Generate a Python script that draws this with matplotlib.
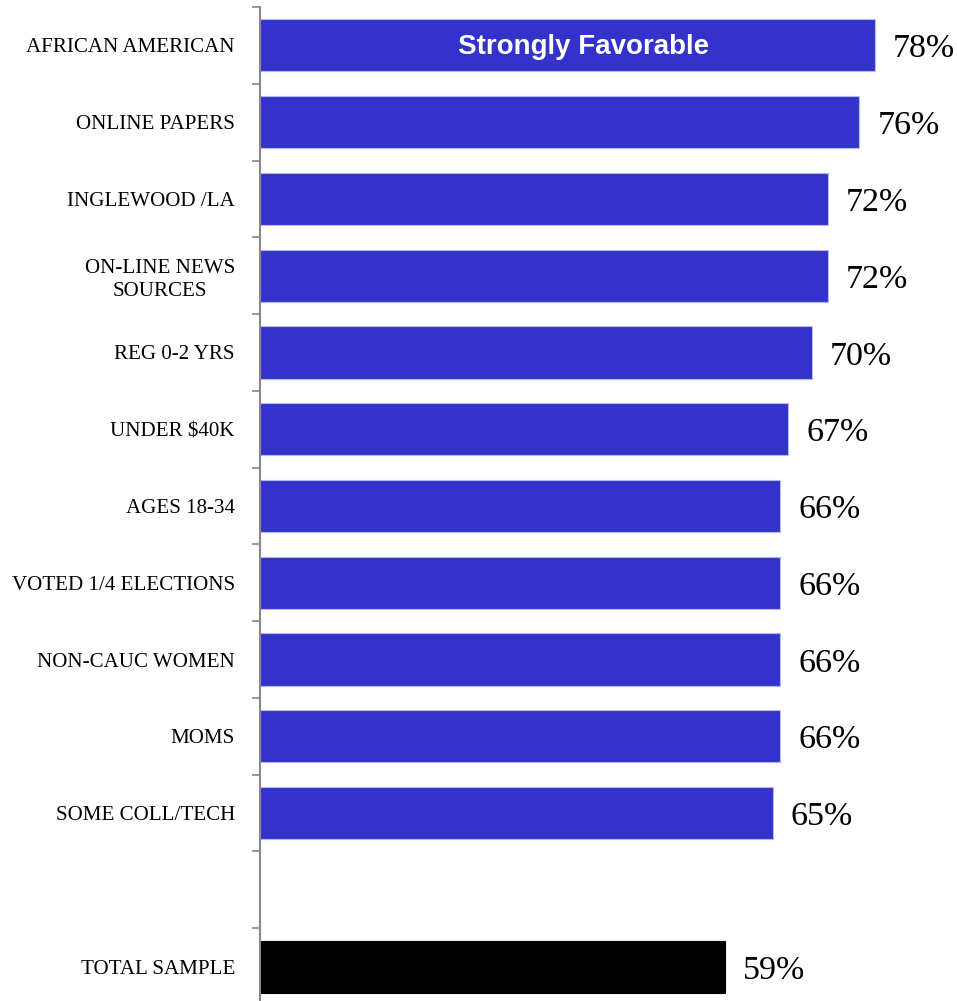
import matplotlib
matplotlib.use("Agg")
import matplotlib.pyplot as plt
from matplotlib.ticker import FixedLocator, NullFormatter

categories = ["AFRICAN AMERICAN", "ONLINE PAPERS", "INGLEWOOD /LA", "ON-LINE NEWS\nSOURCES",
              "REG 0-2 YRS", "UNDER $40K", "AGES 18-34", "VOTED 1/4 ELECTIONS",
              "NON-CAUC WOMEN", "MOMS", "SOME COLL/TECH", "", "TOTAL SAMPLE"]
values = [78, 76, 72, 72, 70, 67, 66, 66, 66, 66, 65, None, 59]
colors = ["#3333CC"] * 11 + [None, "#000000"]
legend_label = "Strongly Favorable"

fig = plt.figure(figsize=(9.57, 10.01), dpi=100)
ax = fig.add_axes([260/957, -4/1001, 1 - 260/957, 1 - 7/1001 + 4/1001])

positions = list(range(len(categories)))
for pos, v, c in zip(positions, values, colors):
    if v is None:
        continue
    ax.barh(pos, v, height=0.68, color=c, edgecolor="#b8b8f0" if c != "#000000" else "#000000",
            linewidth=0.8)
    ax.text(v + 2.3, pos + 0.05, f"{v}%", va="center", ha="left",
            fontsize=24.5, family="Liberation Serif", color="black")

ax.text(41.1, 0.02, legend_label, ha="center", va="center", color="white",
        fontsize=20, fontweight="bold", family="Liberation Sans")

ax.set_xlim(0, 88.4)
ax.set_ylim(len(categories) - 0.5, -0.5)
ax.set_yticks(positions)
labels = ax.set_yticklabels(categories, family="Liberation Serif", fontsize=15.1, linespacing=1.25)
for lb in labels:
    lb.set_multialignment("center")
ax.tick_params(axis="y", which="major", length=0, pad=18)
ax.yaxis.set_minor_locator(FixedLocator([p - 0.5 for p in range(len(categories) + 1)]))
ax.yaxis.set_minor_formatter(NullFormatter())
ax.tick_params(axis="y", which="minor", length=6, width=1.2, color="#888888", direction="out")
ax.set_xticks([])
for s in ["top", "right", "bottom"]:
    ax.spines[s].set_visible(False)
ax.spines["left"].set_color("#888888")
ax.spines["left"].set_linewidth(1.5)

fig.savefig("out.png", dpi=100)
